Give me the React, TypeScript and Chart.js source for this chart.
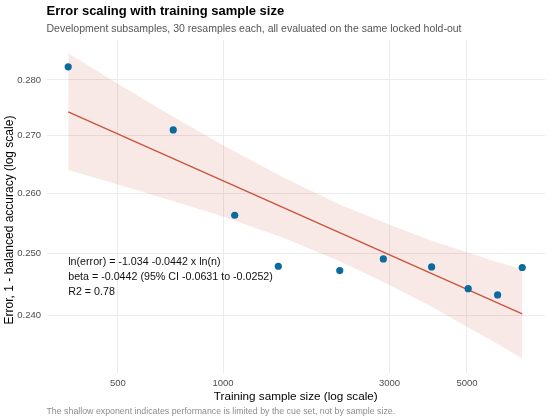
import React, { useRef, useEffect } from 'react';
import { Chart, registerables } from 'chart.js';
Chart.register(...registerables);

// training sample size (n) and error = 1 - balanced accuracy
const SAMPLE_N = [360, 720, 1080, 1440, 2160, 2880, 3960, 5040, 6120, 7200];
const ERROR = [0.2824, 0.271, 0.2563, 0.2479, 0.2472, 0.2491, 0.2478, 0.2443, 0.2433, 0.2477];

// fitted power law and its 95% band
const FIT_N = [360, 7200];
const FIT_ERROR = [0.2742, 0.2403];
const BAND_N = [360, 500, 700, 1000, 1500, 2160, 3000, 4000, 5000, 6000, 7200];
const BAND_UPPER = [0.2849, 0.2793, 0.2738, 0.2683, 0.2626, 0.2581, 0.2547, 0.252, 0.2502, 0.2487, 0.2474];
const BAND_LOWER = [0.264, 0.2615, 0.2589, 0.2561, 0.2525, 0.2487, 0.2449, 0.2413, 0.2383, 0.2359, 0.2334];

const X_TICKS = [500, 1000, 3000, 5000];
const Y_TICKS = [0.24, 0.25, 0.26, 0.27, 0.28];

const TITLE = 'Error scaling with training sample size';
const SUBTITLE = 'Development subsamples, 30 resamples each, all evaluated on the same locked hold-out';
const CAPTION = 'The shallow exponent indicates performance is limited by the cue set, not by sample size.';
const ANNOTATION = [
  'ln(error) = -1.034 -0.0442 x ln(n)',
  'beta = -0.0442 (95% CI -0.0631 to -0.0252)',
  'R2 = 0.78',
];
const ANNOT_N = 360;
const ANNOT_ERROR = 0.2461;

const FONT = '"Liberation Sans", Arial, sans-serif';
const LINE_COLOR = '#c8553d';
const POINT_COLOR = '#0b6a9e';

const pts = (xs: number[], ys: number[]) => xs.map((x, i) => ({ x, y: ys[i] }));

const textPlugin = {
  id: 'texts',
  afterDraw(chart: any) {
    const { ctx, chartArea, scales } = chart;
    ctx.save();
    ctx.textBaseline = 'alphabetic';
    ctx.textAlign = 'left';

    ctx.fillStyle = '#000';
    ctx.font = `bold 13px ${FONT}`;
    ctx.fillText(TITLE, chartArea.left, 15);

    ctx.fillStyle = '#555';
    ctx.font = `10.5px ${FONT}`;
    ctx.fillText(SUBTITLE, chartArea.left, 31.5);

    ctx.fillStyle = '#8c8c8c';
    ctx.font = `8.8px ${FONT}`;
    ctx.fillText(CAPTION, chartArea.left, 414);

    // y axis title
    ctx.save();
    ctx.fillStyle = '#000';
    ctx.font = `12px ${FONT}`;
    ctx.translate(9.5, 220);
    ctx.rotate(-Math.PI / 2);
    ctx.textAlign = 'center';
    ctx.textBaseline = 'middle';
    ctx.fillText('Error, 1 - balanced accuracy (log scale)', 0, 0);
    ctx.restore();

    // fit annotation
    const ax = scales.x.getPixelForValue(ANNOT_N);
    const ay = scales.y.getPixelForValue(ANNOT_ERROR);
    ctx.fillStyle = '#111';
    ctx.font = `10.7px ${FONT}`;
    ctx.textBaseline = 'middle';
    ANNOTATION.forEach((line, i) => ctx.fillText(line, ax, ay + (i - 1) * 15));
    ctx.restore();
  },
};

const App: React.FC = () => {
  const canvasRef = useRef<HTMLCanvasElement>(null);
  const chartRef = useRef<Chart | null>(null);

  useEffect(() => {
    if (!canvasRef.current) return;
    if (chartRef.current) chartRef.current.destroy();
    chartRef.current = new Chart(canvasRef.current, {
      type: 'scatter',
      data: {
        datasets: [
          {
            data: pts(SAMPLE_N, ERROR),
            backgroundColor: POINT_COLOR,
            borderWidth: 0,
            pointRadius: 3.6,
            showLine: false,
          },
          {
            data: pts(FIT_N, FIT_ERROR),
            borderColor: LINE_COLOR,
            borderWidth: 1.4,
            pointRadius: 0,
            showLine: true,
            fill: false,
          },
          {
            data: pts(BAND_N, BAND_UPPER),
            borderWidth: 0,
            borderColor: 'transparent',
            backgroundColor: 'rgba(200, 85, 61, 0.13)',
            pointRadius: 0,
            showLine: true,
            fill: '+1',
          },
          {
            data: pts(BAND_N, BAND_LOWER),
            borderWidth: 0,
            borderColor: 'transparent',
            pointRadius: 0,
            showLine: true,
            fill: false,
          },
        ],
      },
      options: {
        responsive: false,
        animation: false,
        layout: { padding: { top: 40, right: 5, bottom: 0, left: 0 } },
        plugins: { legend: { display: false }, tooltip: { enabled: false } },
        scales: {
          x: {
            type: 'logarithmic',
            min: 312,
            max: 8367,
            afterBuildTicks: (s: any) => { s.ticks = X_TICKS.map((v) => ({ value: v })); },
            afterFit: (s: any) => { s.height = 47; },
            ticks: {
              autoSkip: false,
              maxRotation: 0,
              padding: 4.5,
              color: '#4d4d4d',
              font: { family: FONT, size: 9.5 },
              callback: (v: any) => String(v),
            },
            grid: { color: '#ebebeb', lineWidth: 1, drawTicks: false },
            border: { display: false },
            title: {
              display: true,
              text: 'Training sample size (log scale)',
              color: '#000',
              font: { family: FONT, size: 11.7 },
              padding: { top: 0, bottom: 16.5 },
            },
          },
          y: {
            type: 'logarithmic',
            min: 0.2312,
            max: 0.2874,
            afterBuildTicks: (s: any) => { s.ticks = Y_TICKS.map((v) => ({ value: v })); },
            afterFit: (s: any) => { s.width = 46.5; },
            ticks: {
              autoSkip: false,
              padding: 5.5,
              color: '#4d4d4d',
              font: { family: FONT, size: 9.5 },
              callback: (v: any) => Number(v).toFixed(3),
            },
            grid: { color: '#ebebeb', lineWidth: 1, drawTicks: false },
            border: { display: false },
          },
        },
      },
      plugins: [textPlugin],
    });
    return () => {
      chartRef.current?.destroy();
      chartRef.current = null;
    };
  }, []);

  return (
    <div style={{ position: 'absolute', left: 0, top: 0, width: 550, height: 420, background: '#fff' }}>
      <canvas ref={canvasRef} width={550} height={420}></canvas>
    </div>
  );
};

export default App;
